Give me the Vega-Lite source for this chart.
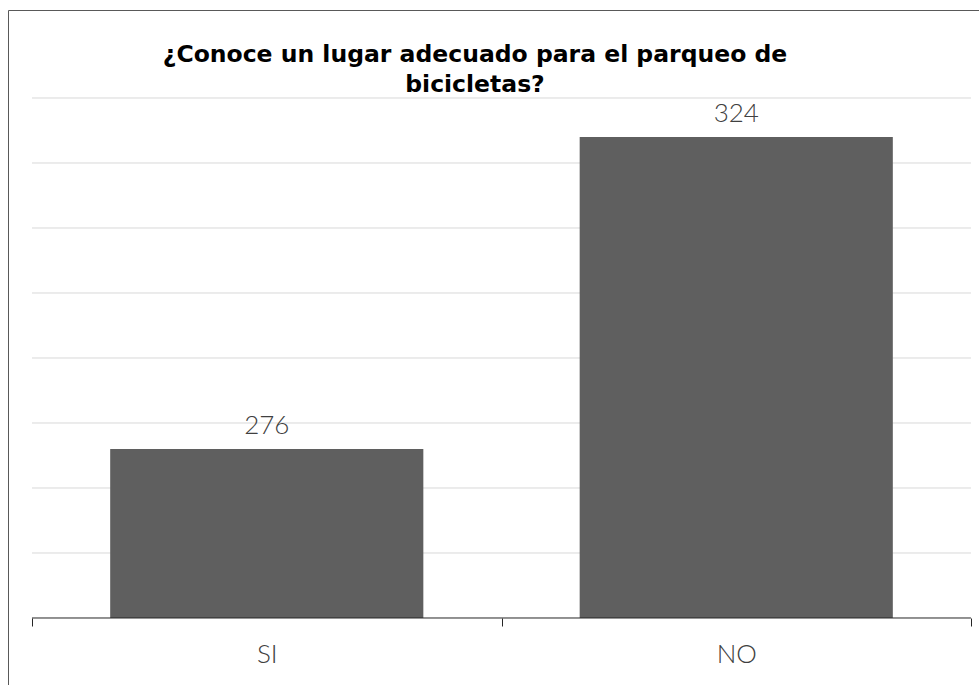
{
  "$schema": "https://vega.github.io/schema/vega-lite/v6.json",
  "width": 971,
  "height": 675,
  "autosize": {"type": "none"},
  "padding": {"left": 8, "top": 10, "right": 0, "bottom": 0},
  "background": "white",
  "config": {
    "view": {"stroke": "#595959", "strokeWidth": 1},
    "font": "Lato"
  },
  "title": {
    "text": ["¿Conoce un lugar adecuado para el parqueo de", "bicicletas?"],
    "font": "DejaVu Sans",
    "fontWeight": "bold",
    "fontSize": 23.5,
    "color": "#000000",
    "anchor": "middle",
    "frame": "group",
    "baseline": "alphabetic",
    "lineHeight": 30,
    "offset": 0,
    "dx": -18.5,
    "dy": 105
  },
  "datasets": {
    "bars": [
      {"respuesta": "SI", "cantidad": 276},
      {"respuesta": "NO", "cantidad": 324}
    ],
    "grid": [
      {"v": 260}, {"v": 270}, {"v": 280}, {"v": 290},
      {"v": 300}, {"v": 310}, {"v": 320}, {"v": 330}
    ],
    "base": [{"v": 250}]
  },
  "layer": [
    {
      "data": {"name": "grid"},
      "mark": {"type": "rule", "color": "#d9d9d9", "strokeWidth": 1},
      "encoding": {
        "y": {"field": "v", "type": "quantitative", "scale": {"domain": [239.692, 343.538], "nice": false, "zero": false}, "axis": null},
        "x": {"datum": 0, "type": "quantitative", "scale": {"domain": [-0.025559, 1.00852], "nice": false, "zero": false}, "axis": null},
        "x2": {"datum": 1}
      }
    },
    {
      "data": {"name": "bars"},
      "encoding": {
        "x": {
          "field": "respuesta", "type": "nominal", "sort": ["SI", "NO"],
          "scale": {"paddingInner": 0, "paddingOuter": 0.0341, "align": 0.75},
          "axis": {
            "title": null, "domain": false, "ticks": true, "tickBand": "extent",
            "tickSize": 8, "tickColor": "#262626", "tickWidth": 1,
            "labelFont": "Lato", "labelFontWeight": 300, "labelFontSize": 26,
            "labelColor": "#404040", "labelBaseline": "alphabetic", "labelPadding": 36,
            "labelAngle": 0, "offset": -67, "grid": false
          }
        },
        "y": {"field": "cantidad", "type": "quantitative", "scale": {"domain": [239.692, 343.538], "nice": false, "zero": false}, "axis": null}
      },
      "layer": [
        {
          "mark": {"type": "bar", "color": "#5f5f5f", "width": {"band": 0.667}},
          "encoding": {"y2": {"datum": 250}}
        },
        {
          "mark": {"type": "text", "font": "Lato", "fontWeight": 300, "fontSize": 26, "color": "#404040", "baseline": "alphabetic", "dy": -15},
          "encoding": {"text": {"field": "cantidad", "type": "quantitative"}}
        }
      ]
    },
    {
      "data": {"name": "base"},
      "mark": {"type": "rule", "color": "#262626", "strokeWidth": 1},
      "encoding": {
        "y": {"field": "v", "type": "quantitative", "axis": null},
        "x": {"datum": 0, "type": "quantitative", "scale": {"domain": [-0.025559, 1.00852], "nice": false, "zero": false}, "axis": null},
        "x2": {"datum": 1}
      }
    }
  ],
  "resolve": {"scale": {"x": "independent"}}
}
